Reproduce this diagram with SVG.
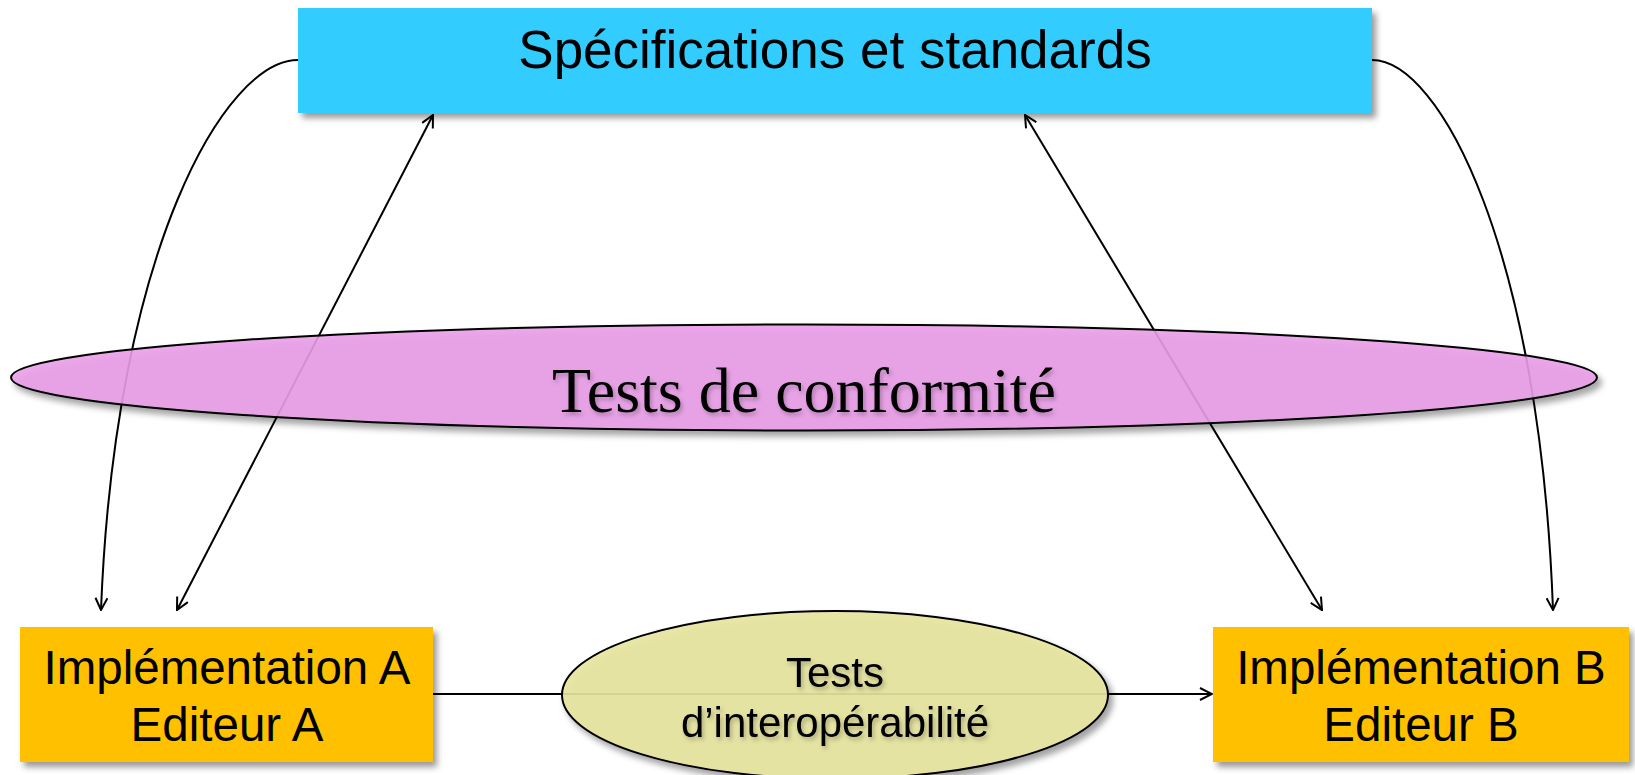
<svg xmlns="http://www.w3.org/2000/svg" width="1635" height="775" viewBox="0 0 1635 775">
  <style>
    .box { stroke: none; filter: url(#shadow); }
    .sans { font-family: "Liberation Sans", Arial, sans-serif; fill: #000; text-anchor: middle; }
    .serif { font-family: "Liberation Serif", "Times New Roman", serif; fill: #000; text-anchor: middle; }
    .link { fill: none; stroke: #000; stroke-width: 2; }
    .oval { stroke: #000; stroke-width: 2; filter: url(#shadow); }
    .soft { filter: url(#textshadow); }
  </style>
  <defs>
    <filter id="shadow" x="-10%" y="-20%" width="120%" height="150%">
      <feDropShadow dx="4" dy="5" stdDeviation="3" flood-color="#000" flood-opacity="0.4"/>
    </filter>
    <filter id="textshadow" x="-10%" y="-20%" width="120%" height="150%">
      <feDropShadow dx="2" dy="3" stdDeviation="2" flood-color="#000" flood-opacity="0.25"/>
    </filter>
    <marker id="arrow" viewBox="0 0 14 14" refX="13" refY="7" markerWidth="14" markerHeight="14" markerUnits="userSpaceOnUse" orient="auto-start-reverse">
      <path d="M1,1 L13,7 L1,13" fill="none" stroke="#000" stroke-width="2"/>
    </marker>
  </defs>

  <!-- connectors, drawn beneath the translucent ovals -->
  <g id="connectors">
    <path class="link" d="M298,60 C225,60 115,250 101,610" marker-end="url(#arrow)"/>
    <path class="link" d="M1372,60 C1440,60 1540,250 1553,610" marker-end="url(#arrow)"/>
    <line class="link" x1="433" y1="115" x2="177" y2="610" marker-start="url(#arrow)" marker-end="url(#arrow)"/>
    <line class="link" x1="1025" y1="115" x2="1322" y2="610" marker-start="url(#arrow)" marker-end="url(#arrow)"/>
    <line class="link" x1="433" y1="694" x2="1212" y2="694" marker-end="url(#arrow)"/>
  </g>

  <g id="specs">
    <rect class="box" x="298" y="8" width="1074" height="105" fill="#33CCFF"/>
    <text class="sans" x="835" y="67.5" font-size="53">Spécifications et standards</text>
  </g>

  <g id="conformity">
    <ellipse class="oval" cx="804" cy="377.5" rx="793" ry="53" fill="#EB9DE9" fill-opacity="0.88"/>
    <text class="serif soft" x="804" y="411.5" font-size="64">Tests de conformité</text>
  </g>

  <g id="impl-a">
    <rect class="box" x="20" y="627" width="413" height="135" fill="#FFC000"/>
    <text class="sans" x="227" y="684" font-size="47.5">Implémentation A</text>
    <text class="sans" x="227" y="741" font-size="47.5">Editeur A</text>
  </g>

  <g id="impl-b">
    <rect class="box" x="1213" y="627" width="416" height="135" fill="#FFC000"/>
    <text class="sans" x="1421" y="684" font-size="47.5">Implémentation B</text>
    <text class="sans" x="1421" y="741" font-size="47.5">Editeur B</text>
  </g>

  <g id="interop">
    <ellipse class="oval" cx="835" cy="695" rx="273" ry="84" fill="#E8E69E" fill-opacity="0.9"/>
    <text class="sans soft" x="835" y="687" font-size="42">Tests</text>
    <text class="sans soft" x="835" y="737" font-size="42">d’interopérabilité</text>
  </g>
</svg>
